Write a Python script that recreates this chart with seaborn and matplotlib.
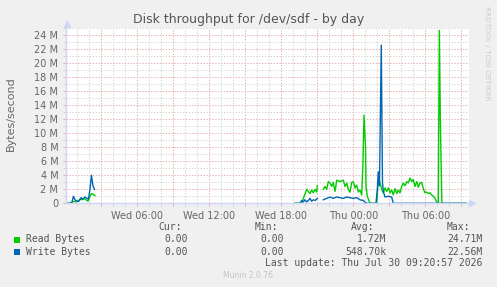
import matplotlib
matplotlib.use("Agg")
import matplotlib.pyplot as plt
import numpy as np
import pandas as pd
import seaborn as sns
from matplotlib.lines import Line2D
from matplotlib.patches import Rectangle
from matplotlib.ticker import MultipleLocator, FixedLocator

# ---- data (hours since Wed 00:00, values in MB/s) ----
read_hours_a = [0.14, 0.39, 0.56, 0.73, 0.89, 1.06, 1.23, 1.39, 1.56, 1.73, 1.89, 2.06, 2.18, 2.31, 2.48]
read_mb_a = [0, 0, 0.1, 0.3, 0.2, 0.3, 0.6, 0.5, 0.7, 0.5, 0.3, 1.0, 1.4, 1.3, 1.1]
write_hours_a = [0.14, 0.39, 0.56, 0.68, 0.81, 0.98, 1.14, 1.31, 1.48, 1.64, 1.81, 1.93, 2.06, 2.18, 2.31, 2.43]
write_mb_a = [0, 0, 0.2, 1.0, 0.5, 0.3, 0.3, 0.8, 0.6, 0.9, 0.7, 0.6, 2.0, 4.0, 2.5, 2.0]

read_hours_b = [19.14, 19.56, 19.7, 19.9, 20.12, 20.25, 20.39, 20.53, 20.67, 20.81, 20.95, 21.0]
read_mb_b = [0, 0, 0, 1.0, 2.0, 1.7, 1.4, 1.9, 1.5, 2.0, 1.6, 2.5]
write_hours_b = [19.14, 19.56, 19.7, 19.84, 19.97, 20.12, 20.25, 20.39, 20.53, 20.67, 20.81, 21.0]
write_mb_b = [0, 0, 0.4, 0.2, 0.5, 0.2, 0.4, 0.7, 0.3, 0.5, 0.4, 0.7]

read_hours_c = [21.5, 21.64, 21.78, 21.92, 22.06, 22.2, 22.33, 22.48, 22.62, 22.89,
                23.17, 23.31, 23.45, 23.58, 23.73, 23.87, 24.0, 24.14, 24.28, 24.42,
                24.56, 24.7, 24.81, 24.89, 25.02, 25.06, 25.17, 25.39, 25.95, 26.06,
                26.17, 26.36, 26.5, 26.64, 26.78, 26.92, 27.06, 27.2, 27.33, 27.48,
                27.62, 27.75, 27.89, 28.03, 28.17, 28.31, 28.45, 28.58, 28.73, 28.87,
                29.0, 29.14, 29.28, 29.42, 29.56, 29.7, 29.83, 29.98, 30.12, 30.25,
                30.39, 30.53, 30.67, 30.81, 30.95, 31.0, 31.08, 31.17, 31.25, 31.38,
                33.4]
read_mb_c = [2.0, 2.4, 2.0, 3.1, 2.9, 2.4, 3.0, 1.7, 3.3, 3.1,
             3.3, 2.4, 2.9, 2.0, 1.6, 3.0, 3.1, 2.2, 2.6, 1.6,
             1.9, 1.2, 6.0, 12.6, 8.0, 2.4, 1.0, 0, 0, 2.9,
             3.3, 2.0, 1.5, 2.2, 1.7, 2.2, 1.5, 1.9, 1.2, 2.1,
             1.4, 1.9, 1.5, 2.4, 2.9, 2.5, 3.1, 2.9, 3.6, 3.1,
             3.4, 2.4, 3.1, 2.3, 2.9, 3.0, 2.1, 1.5, 1.6, 1.4,
             1.5, 1.2, 1.0, 0.7, 0.2, 0, 0, 24.7, 12.0, 0,
             0]
write_hours_c = [21.5, 21.78, 22.06, 22.33, 22.62, 22.89, 23.17, 23.45, 23.73, 24.0,
                 24.28, 24.56, 24.84, 25.0, 25.2, 25.89, 26.0, 26.08, 26.18, 26.33,
                 26.43, 26.5, 26.64, 26.92, 27.2, 27.27, 27.33, 33.4]
write_mb_c = [0.5, 0.7, 0.9, 0.7, 0.9, 0.8, 0.7, 0.9, 0.8, 0.7,
              0.8, 0.5, 0.4, 0.1, 0, 0, 1.9, 4.5, 2.5, 22.6,
              3.0, 1.7, 0.9, 1.0, 0.9, 0.4, 0, 0]

xtick_hours = [6, 12, 18, 24, 30]
xtick_labels = ["Wed 06:00", "Wed 12:00", "Wed 18:00", "Thu 00:00", "Thu 06:00"]
ytick_values = list(range(0, 25, 2))
ytick_labels = ["0"] + [f"{v} M" for v in range(2, 25, 2)]

series_names = ["Read Bytes", "Write Bytes"]
series_colors = ["#00cc00", "#0066b3"]
stat_cur = ["0.00", "0.00"]
stat_min = ["0.00", "0.00"]
stat_avg = ["1.72M", "548.70k"]
stat_max = ["24.71M", "22.56M"]

# ---- frame ----
rows = []
for name, segs in [("Read Bytes", [(read_hours_a, read_mb_a), (read_hours_b, read_mb_b), (read_hours_c, read_mb_c)]),
                   ("Write Bytes", [(write_hours_a, write_mb_a), (write_hours_b, write_mb_b), (write_hours_c, write_mb_c)])]:
    for si, (hs, vs) in enumerate(segs):
        for h, v in zip(hs, vs):
            rows.append({"hour": h, "mb": v, "series": name, "seg": si})
df = pd.DataFrame(rows)

W, H = 497, 287
fig = plt.figure(figsize=(W / 100, H / 100), dpi=100, facecolor="#f0f0f0")
ax = fig.add_axes([66 / W, 1 - 203.3 / H, (469 - 66) / W, (203.3 - 28.3) / H])
ax.set_facecolor("white")

major_c = "#eab0b0"
minor_c = "#d8d8d8"
axis_c = "#CFD6F8"
font_c = "#666666"

ax.set_xlim(0.06, 33.64)
ax.set_ylim(0, 25)
major_x = list(range(3, 34, 3))
ax.set_xticks(major_x)
ax.set_xticklabels([xtick_labels[xtick_hours.index(h)] if h in xtick_hours else "" for h in major_x])
ax.xaxis.set_minor_locator(MultipleLocator(1))
ax.set_yticks(ytick_values)
ax.set_yticklabels(ytick_labels)
ax.yaxis.set_minor_locator(MultipleLocator(1))

ax.grid(which="minor", color=minor_c, linestyle=(0, (1.3, 1.5)), linewidth=0.75)
ax.grid(which="major", color=major_c, linestyle=(0, (1.3, 1.5)), linewidth=0.75)
ax.set_axisbelow(True)

for name, color in zip(series_names, series_colors):
    sns.lineplot(data=df[df.series == name], x="hour", y="mb", units="seg", estimator=None,
                 sort=False, color=color, linewidth=1.0, ax=ax, legend=False)
ax.set_xlabel("")
ax.set_ylabel("")

for s in ["top", "right"]:
    ax.spines[s].set_visible(False)
for s in ["left", "bottom"]:
    ax.spines[s].set_color(axis_c)
    ax.spines[s].set_linewidth(1.0)
    ax.spines[s].set_zorder(5)

ax.tick_params(which="major", length=2, width=0.75, color=major_c, labelsize=7, labelcolor=font_c)
ax.tick_params(which="minor", length=2, width=0.75, color=minor_c)
ax.tick_params(axis="x", which="major", pad=3.5)
ax.tick_params(axis="y", which="major", pad=3.5)

# arrows
fig.add_artist(Line2D([67 / W], [1 - 24 / H], marker="^", markersize=4.5, color=axis_c, transform=fig.transFigure))
fig.add_artist(Line2D([472 / W], [1 - 203.3 / H], marker=">", markersize=4.5, color=axis_c, transform=fig.transFigure))

def ftext(x, y, s, **kw):
    fig.text(x / W, 1 - y / H, s, **kw)

ftext(248.5, 19.5, "Disk throughput for /dev/sdf - by day", ha="center", va="center", fontsize=9, color="#555555")
ftext(11, 114, "Bytes/second", rotation=90, ha="center", va="center", fontsize=8, color=font_c)
ftext(487, 53, "RRDTOOL / TOBI OETIKER", rotation=270, ha="center", va="center", fontsize=5.3, color="#cccccc")
ftext(248, 276, "Munin 2.0.76", ha="center", va="center", fontsize=5.5, color="#c4c4c4")

mono = dict(family="DejaVu Sans Mono", fontsize=7, color="#555555", va="center")
ftext(181.7, 227.5, "Cur:", ha="right", **mono)
ftext(277.7, 227.5, "Min:", ha="right", **mono)
ftext(374.3, 227.5, "Avg:", ha="right", **mono)
ftext(470, 227.5, "Max:", ha="right", **mono)
for i, (name, color) in enumerate(zip(series_names, series_colors)):
    y = 239.5 + i * 12.2
    fig.patches.append(Rectangle((14 / W, 1 - (y + 3) / H), 6 / W, 6 / H, transform=fig.transFigure,
                                 facecolor=color, edgecolor="none"))
    ftext(26, y, name, ha="left", **mono)
    ftext(187.7, y, stat_cur[i], ha="right", **mono)
    ftext(284, y, stat_min[i], ha="right", **mono)
    ftext(386.7, y, stat_avg[i], ha="right", **mono)
    ftext(482.7, y, stat_max[i], ha="right", **mono)
ftext(482.7, 263.5, "Last update: Thu Jul 30 09:20:57 2026", ha="right", **mono)

fig.savefig("out.png", dpi=100, facecolor=fig.get_facecolor())
